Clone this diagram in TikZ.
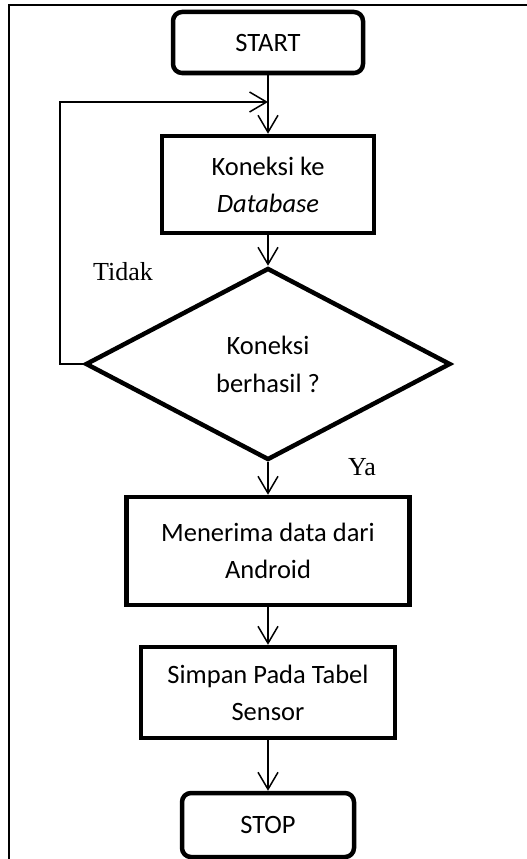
\documentclass[tikz,border=0pt]{standalone}
\usepackage{fontspec}
\setmainfont{Carlito}
\newfontfamily\timesf{Liberation Serif}
\usetikzlibrary{shapes.geometric,arrows.meta}
\tikzset{
  box/.style={draw, line width=4.5pt, inner sep=0pt, align=center, font=\fontsize{26.5}{37}\selectfont},
  term/.style={box, rounded corners=9pt},
  dec/.style={draw, diamond, line width=4.5pt, inner sep=0pt, align=center, font=\fontsize{26.5}{38}\selectfont},
  arr/.style={-{Straight Barb[length=17pt,width=20pt]}, line width=1.5pt},
  lbl/.style={font=\timesf\fontsize{26}{30}\selectfont, inner sep=0pt},
  frame/.style={line width=2pt}
}
\begin{document}
\begin{tikzpicture}[x=1pt,y=-1pt]
\useasboundingbox (0,0) rectangle (527,859);
\clip (0,0) rectangle (527,859);
\draw[frame] (530,5) -- (9,5) -- (9,870);
\node[term, minimum width=190pt, minimum height=61pt] (start) at (268,42.5) {START};
\node[box, minimum width=212pt, minimum height=97pt] (k) at (268,184.5) {Koneksi ke\\\textit{Database}};
\node[dec, minimum width=365pt, minimum height=192pt] (d) at (268,364) {Koneksi\\berhasil ?};
\node[box, minimum width=283pt, minimum height=108pt] (m) at (268,551) {Menerima data dari\\Android};
\node[box, minimum width=254pt, minimum height=91pt] (s) at (268,692.5) {Simpan Pada Tabel\\Sensor};
\node[term, minimum width=172pt, minimum height=64pt] (stop) at (268,825) {STOP};
\coordinate (lx) at (60,102);
\coordinate (lp) at (268,102);
\draw[arr] (start) -- (k);
\draw[arr] (k) -- (d);
\draw[arr] (d) -- (m);
\draw[arr] (m) -- (s);
\draw[arr] (s) -- (stop);
\draw[arr] (d.west) -| (lx) -- (lp);
\node[lbl] (tidak) at (123,272) {Tidak};
\node[lbl] (ya) at (362,467) {Ya};
\end{tikzpicture}
\end{document}
